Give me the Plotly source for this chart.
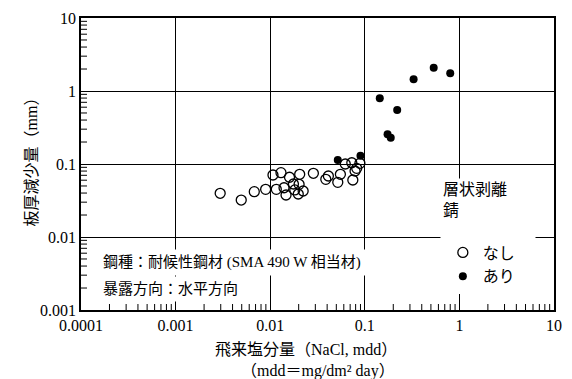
import plotly.graph_objects as go

# ---- data ----
x_nashi = [0.00296, 0.00494, 0.00679, 0.00895, 0.0107, 0.0130, 0.0160, 0.0205,
           0.0116, 0.0140, 0.0147, 0.0176, 0.0202, 0.0182, 0.0198, 0.0223,
           0.0286, 0.0387, 0.0412, 0.0518, 0.0552, 0.0622, 0.0729, 0.0789,
           0.0747, 0.0888, 0.0821]
y_nashi = [0.0397, 0.0321, 0.0418, 0.0450, 0.0707, 0.0760, 0.0658, 0.0723,
           0.0450, 0.0473, 0.0376, 0.0532, 0.0527, 0.0441, 0.0388, 0.0427,
           0.0746, 0.0617, 0.0685, 0.0561, 0.0723, 0.100, 0.104, 0.0802,
           0.0604, 0.102, 0.0873]

x_ari = [0.0518, 0.090, 0.144, 0.174, 0.188, 0.22, 0.328, 0.535, 0.80]
y_ari = [0.1135, 0.130, 0.794, 0.255, 0.229, 0.549, 1.45, 2.09, 1.75]

x_tickvals = [0.0001, 0.001, 0.01, 0.1, 1, 10]
x_ticktext = ["0.0001", "0.001", "0.01", "0.1", "1", "10"]
y_tickvals = [0.001, 0.01, 0.1, 1, 10]
y_ticktext = ["0.001", "0.01", "0.1", "1", "10"]

series_names = ["なし", "あり"]
legend_title = "層状剥離<br>錆"
x_title = "飛来塩分量（NaCl, mdd）"
x_subtitle = "（mdd＝mg/dm² day）"
y_title = "板厚減少量（mm）"
note_lines = ["鋼種：耐候性鋼材 (SMA 490 W 相当材)", "暴露方向：水平方向"]

FONT = "Liberation Serif, Noto Sans CJK JP, serif"
X_RANGE = [-4, 1]
Y_RANGE = [-3, 1]
MINOR_LEN = 6


def minor_positions(major_vals):
    """Positions 2..9 inside each decade (tick positions, not data)."""
    return [v * d for v in major_vals[:-1] for d in range(2, 10)]


fig = go.Figure()
fig.add_trace(go.Scatter(
    x=x_nashi, y=y_nashi, mode="markers", name=series_names[0],
    marker=dict(symbol="circle-open", size=10, color="black", line=dict(width=1.3, color="black")),
))
fig.add_trace(go.Scatter(
    x=x_ari, y=y_ari, mode="markers", name=series_names[1],
    marker=dict(symbol="circle", size=8, color="black"),
))

axis_common = dict(
    type="log", showline=True, mirror=True, linecolor="black", linewidth=1.5,
    showgrid=True, gridcolor="black", gridwidth=1.2,
    ticks="", tickmode="array",
    tickfont=dict(family=FONT, size=16, color="black"),
    zeroline=False,
)
fig.update_xaxes(range=X_RANGE, tickvals=x_tickvals, ticktext=x_ticktext, **axis_common)
fig.update_yaxes(range=Y_RANGE, tickvals=y_tickvals, ticktext=y_ticktext, **axis_common)

# inside minor ticks on the bottom and left axes
tick_line = dict(color="black", width=1)
for xv in minor_positions(x_tickvals):
    fig.add_shape(type="line", xref="x", yref="paper", x0=xv, x1=xv,
                  ysizemode="pixel", yanchor=0, y0=0, y1=MINOR_LEN, line=tick_line, layer="above")
for yv in minor_positions(y_tickvals):
    fig.add_shape(type="line", yref="y", xref="paper", y0=yv, y1=yv,
                  xsizemode="pixel", xanchor=0, x0=0, x1=MINOR_LEN, line=tick_line, layer="above")

annotations = [
    dict(text=x_title, xref="paper", yref="paper", x=0.475, y=-0.135, xanchor="center", yanchor="middle",
         showarrow=False, font=dict(family=FONT, size=16, color="black")),
    dict(text=x_subtitle, xref="paper", yref="paper", x=0.50, y=-0.21, xanchor="center", yanchor="middle",
         showarrow=False, font=dict(family=FONT, size=16, color="black")),
    dict(text=y_title, xref="paper", yref="paper", x=-0.105, y=0.52, xanchor="center", yanchor="middle",
         textangle=-90, showarrow=False, font=dict(family=FONT, size=16, color="black")),
    dict(text=note_lines[0], xref="paper", yref="paper", x=0.035, y=0.164, xanchor="left", yanchor="middle",
         showarrow=False, bgcolor="white", borderpad=4, font=dict(family=FONT, size=15, color="black")),
    dict(text=note_lines[1], xref="paper", yref="paper", x=0.035, y=0.072, xanchor="left", yanchor="middle",
         showarrow=False, bgcolor="white", borderpad=4, font=dict(family=FONT, size=15, color="black")),
    dict(text=legend_title, xref="paper", yref="paper", x=0.76, y=0.345, xanchor="left", yanchor="middle",
         align="left", width=90, height=56, valign="top", showarrow=False, bgcolor="white", borderpad=2,
         font=dict(family=FONT, size=16, color="black")),
]

fig.update_layout(
    width=572, height=379,
    margin=dict(l=81, r=10, t=18, b=69),
    paper_bgcolor="white", plot_bgcolor="white",
    font=dict(family=FONT, size=16, color="black"),
    showlegend=True,
    legend=dict(
        x=0.765, y=0.255, xanchor="left", yanchor="top",
        bgcolor="white", borderwidth=0,
        font=dict(family=FONT, size=16, color="black"),
        itemwidth=30,
    ),
    annotations=annotations,
)

fig.write_html("out.html")
